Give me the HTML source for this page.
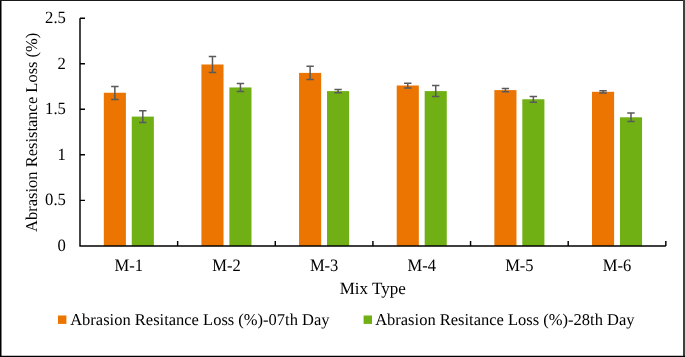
<!DOCTYPE html>
<html><head><meta charset="utf-8"><style>
html,body{margin:0;padding:0;background:#fff;}
body{width:685px;height:357px;overflow:hidden;}
svg{display:block;font-family:"Liberation Serif",serif;text-rendering:geometricPrecision;}
text{fill:#000;}
</style></head><body>
<svg width="685" height="357" viewBox="0 0 685 357">
<rect x="0" y="0" width="685" height="357" fill="#fff"/>
<rect x="103.80" y="92.75" width="22.10" height="153.19" fill="#EB7500"/>
<rect x="131.75" y="116.60" width="22.10" height="129.34" fill="#70B014"/>
<rect x="201.43" y="64.50" width="22.10" height="181.44" fill="#EB7500"/>
<rect x="229.38" y="87.45" width="22.10" height="158.49" fill="#70B014"/>
<rect x="299.07" y="72.90" width="22.10" height="173.04" fill="#EB7500"/>
<rect x="327.02" y="91.10" width="22.10" height="154.84" fill="#70B014"/>
<rect x="396.72" y="85.50" width="22.10" height="160.44" fill="#EB7500"/>
<rect x="424.67" y="91.10" width="22.10" height="154.84" fill="#70B014"/>
<rect x="494.36" y="90.10" width="22.10" height="155.84" fill="#EB7500"/>
<rect x="522.31" y="99.25" width="22.10" height="146.69" fill="#70B014"/>
<rect x="592.00" y="91.80" width="22.10" height="154.14" fill="#EB7500"/>
<rect x="619.95" y="117.30" width="22.10" height="128.64" fill="#70B014"/>
<path d="M114.84 86.60V99.50M111.14 86.60H118.55M111.14 99.50H118.55M142.80 110.80V122.40M139.10 110.80H146.50M139.10 122.40H146.50M212.48 56.50V72.50M208.78 56.50H216.18M208.78 72.50H216.18M240.44 83.60V91.40M236.74 83.60H244.13M236.74 91.40H244.13M310.12 66.20V79.50M306.43 66.20H313.82M306.43 79.50H313.82M338.07 89.50V92.80M334.38 89.50H341.77M334.38 92.80H341.77M407.77 83.30V87.95M404.07 83.30H411.47M404.07 87.95H411.47M435.72 85.40V96.40M432.02 85.40H439.42M432.02 96.40H439.42M505.41 88.45V91.70M501.71 88.45H509.11M501.71 91.70H509.11M533.36 96.40V102.20M529.65 96.40H537.06M529.65 102.20H537.06M603.04 90.70V92.90M599.34 90.70H606.75M599.34 92.90H606.75M631.00 113.10V121.50M627.29 113.10H634.70M627.29 121.50H634.70" stroke="#5a5a5a" stroke-width="1.5" fill="none"/>
<path d="M80.00 18.19V245.94H665.84M80.00 245.94h5M80.00 200.39h5M80.00 154.84h5M80.00 109.29h5M80.00 63.74h5M80.00 18.19h5M177.64 245.94v-5M275.28 245.94v-5M372.92 245.94v-5M470.56 245.94v-5M568.20 245.94v-5M665.84 245.94v-5" stroke="#000000" stroke-width="1.45" fill="none"/>
<rect x="58" y="315.5" width="8.4" height="8.4" fill="#EB7500"/>
<rect x="363.6" y="315.5" width="8.4" height="8.4" fill="#70B014"/>
<g style="filter:grayscale(1)">
<text transform="translate(65.9 251.04) scale(0.97 1)" text-anchor="end" font-size="17.2">0</text>
<text transform="translate(65.9 205.49) scale(0.97 1)" text-anchor="end" font-size="17.2">0.5</text>
<text transform="translate(65.9 159.94) scale(0.97 1)" text-anchor="end" font-size="17.2">1</text>
<text transform="translate(65.9 114.39) scale(0.97 1)" text-anchor="end" font-size="17.2">1.5</text>
<text transform="translate(65.9 68.84) scale(0.97 1)" text-anchor="end" font-size="17.2">2</text>
<text transform="translate(65.9 23.29) scale(0.97 1)" text-anchor="end" font-size="17.2">2.5</text>
<text transform="translate(128.82 270.6) scale(0.95 1)" text-anchor="middle" font-size="17.4">M-1</text>
<text transform="translate(226.46 270.6) scale(0.95 1)" text-anchor="middle" font-size="17.4">M-2</text>
<text transform="translate(324.10 270.6) scale(0.95 1)" text-anchor="middle" font-size="17.4">M-3</text>
<text transform="translate(421.74 270.6) scale(0.95 1)" text-anchor="middle" font-size="17.4">M-4</text>
<text transform="translate(519.38 270.6) scale(0.95 1)" text-anchor="middle" font-size="17.4">M-5</text>
<text transform="translate(617.02 270.6) scale(0.95 1)" text-anchor="middle" font-size="17.4">M-6</text>
<text transform="translate(372.7 294.25) scale(0.99 1)" text-anchor="middle" font-size="17.2">Mix Type</text>
<text transform="translate(37.0 132.3) scale(1.0 1) rotate(-90)" text-anchor="middle" font-size="16.5">Abrasion Resistance Loss (%)</text>
<text x="70.2" y="324.85" font-size="16.5">Abrasion Resitance Loss (%)-07th Day</text>
<text x="375.15" y="324.85" font-size="16.5">Abrasion Resitance Loss (%)-28th Day</text>
</g>
<path d="M0.75 0V357" stroke="#000" stroke-width="1.5"/>
<path d="M0 0.5H685" stroke="#1a1a1a" stroke-width="1"/>
<path d="M684 0V357" stroke="#404040" stroke-width="2"/>
<path d="M0 356.4H685" stroke="#000" stroke-width="1.3"/>
</svg>
</body></html>
